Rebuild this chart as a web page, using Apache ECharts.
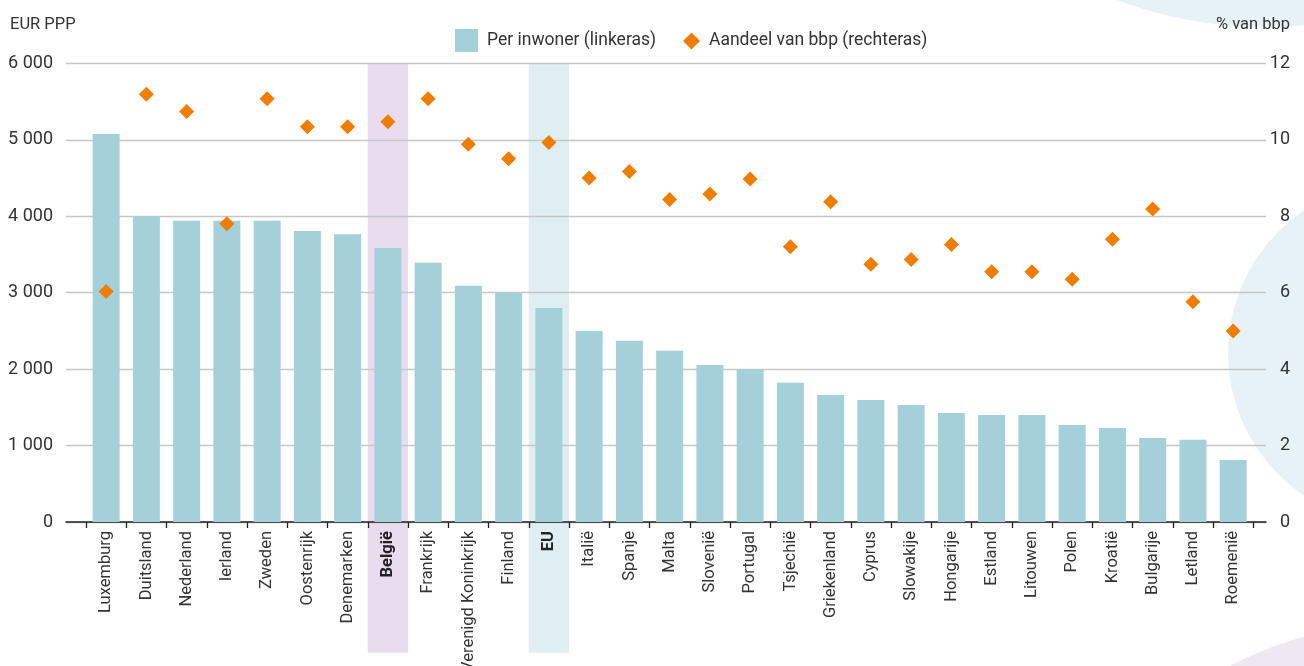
<!DOCTYPE html>
<html><head><meta charset="utf-8">
<script src="https://cdn.jsdelivr.net/npm/echarts@6/dist/echarts.min.js"></script>
<style>html,body{margin:0;padding:0;background:#fff}#c{width:1304px;height:666px}</style>
</head><body><div id="c"></div>
<script>
const categories = ['Luxemburg','Duitsland','Nederland','Ierland','Zweden','Oostenrijk','Denemarken','België','Frankrijk','Verenigd Koninkrijk','Finland','EU','Italië','Spanje','Malta','Slovenië','Portugal','Tsjechië','Griekenland','Cyprus','Slowakije','Hongarije','Estland','Litouwen','Polen','Kroatië','Bulgarije','Letland','Roemenië'];
const perInwoner = [5075,4000,3940,3940,3940,3805,3765,3585,3390,3090,3000,2800,2500,2370,2240,2055,2000,1820,1660,1595,1530,1425,1400,1400,1270,1230,1100,1075,810];
const aandeel = [6.03,11.19,10.74,7.80,11.07,10.34,10.34,10.47,11.07,9.88,9.50,9.93,9.00,9.17,8.44,8.58,8.97,7.20,8.38,6.74,6.87,7.26,6.55,6.55,6.35,7.40,8.19,5.76,5.00];
const highlighted = ['België','EU'];
const seriesNames = ['Per inwoner (linkeras)','Aandeel van bbp (rechteras)'];
const axisTitles = ['EUR PPP','% van bbp'];

const FONT = 'Roboto';
const TXT = '#333333';
const bandColors = {'België':'#e8dcee','EU':'#dfeef3'};
const fmt = v => String(v).replace(/\B(?=(\d{3})+(?!\d))/g, ' ');

const chart = echarts.init(document.getElementById('c'));
chart.setOption({
  animation:false,
  textStyle:{fontFamily:FONT},
  title:[
    {text:axisTitles[0], left:10, top:16, padding:0, textStyle:{fontSize:16.5, fontWeight:'normal', color:TXT, fontFamily:FONT}},
    {text:axisTitles[1], right:14, top:16, padding:0, textStyle:{fontSize:16.5, fontWeight:'normal', color:TXT, fontFamily:FONT}}
  ],
  legend:[
    {left:455, top:29, padding:0, itemWidth:23, itemHeight:23, selectedMode:false,
     data:[{name:seriesNames[0], icon:'rect'}],
     textStyle:{fontSize:17.5, color:TXT, fontFamily:FONT, padding:[0,0,0,4]}},
    {left:683, top:32, padding:0, itemWidth:17, itemHeight:17, selectedMode:false,
     data:[{name:seriesNames[1], icon:'diamond', itemStyle:{opacity:1}}],
     textStyle:{fontSize:17.5, color:TXT, fontFamily:FONT, padding:[0,0,0,4]}}
  ],
  grid:[
    {left:86, right:50.7, top:63.3, bottom:144, outerBoundsMode:'none', containLabel:false},
    {left:66, right:38, top:63.3, bottom:144, outerBoundsMode:'none', containLabel:false},
    {left:86, right:50.7, top:63.3, bottom:13.3, outerBoundsMode:'none', containLabel:false}
  ],
  xAxis:[
    {gridIndex:0, type:'category', data:categories,
     axisLine:{show:false},
     axisTick:{show:true, length:6, lineStyle:{color:'#222', width:1.3}},
     axisLabel:{interval:0, rotate:90, margin:9, fontSize:16.5, color:TXT, fontFamily:FONT,
       formatter: v => highlighted.includes(v) ? '{b|' + v + '}' : v,
       rich:{b:{fontWeight:'bold', fontSize:16.5, color:'#222', fontFamily:FONT}}},
     splitLine:{show:false}},
    {gridIndex:1, type:'value', min:0, max:1,
     axisLine:{show:true, onZero:false, lineStyle:{color:'#222', width:1.5}},
     axisTick:{show:false}, axisLabel:{show:false}, splitLine:{show:false}},
    {gridIndex:2, type:'category', data:categories, show:false}
  ],
  yAxis:[
    {gridIndex:0, type:'value', min:0, max:6000, show:false},
    {gridIndex:0, type:'value', min:0, max:12, show:false, position:'right'},
    {gridIndex:1, type:'value', min:0, max:6000, interval:1000,
     axisLine:{show:false}, axisTick:{show:false},
     axisLabel:{margin:13, fontSize:18, color:TXT, fontFamily:FONT, formatter:fmt},
     splitLine:{show:true, lineStyle:{color:'#c6c6c6', width:1.3}}},
    {gridIndex:1, type:'value', min:0, max:12, interval:2, position:'right',
     axisLine:{show:false}, axisTick:{show:false},
     axisLabel:{margin:24, align:'right', fontSize:18, color:TXT, fontFamily:FONT},
     splitLine:{show:false}},
    {gridIndex:2, type:'value', min:0, max:1, show:false}
  ],
  series:[
    {type:'bar', name:'band', xAxisIndex:2, yAxisIndex:4, barWidth:'100%', z:-1, silent:true,
     data: categories.map(c => highlighted.includes(c) ? {value:1, itemStyle:{color:bandColors[c]}} : '-')},
    {type:'bar', name:seriesNames[0], xAxisIndex:0, yAxisIndex:0, data:perInwoner, barWidth:27,
     itemStyle:{color:'#a4d0da'}},
    {type:'scatter', name:seriesNames[1], xAxisIndex:0, yAxisIndex:1, data:aandeel,
     symbol:'diamond', symbolSize:15, itemStyle:{color:'#ef7d00', opacity:1}, z:5}
  ],
  graphic:{elements:[
    {type:'circle', z:-10, silent:true, shape:{cx:1265, cy:-392, r:419}, style:{fill:'#e6f2f6'}},
    {type:'circle', z:-10, silent:true, shape:{cx:1400, cy:353, r:172}, style:{fill:'#e6f2f6'}},
    {type:'circle', z:-10, silent:true, shape:{cx:1400, cy:991, r:367}, style:{fill:'#efe7f2'}}
  ]}
});
</script></body></html>
